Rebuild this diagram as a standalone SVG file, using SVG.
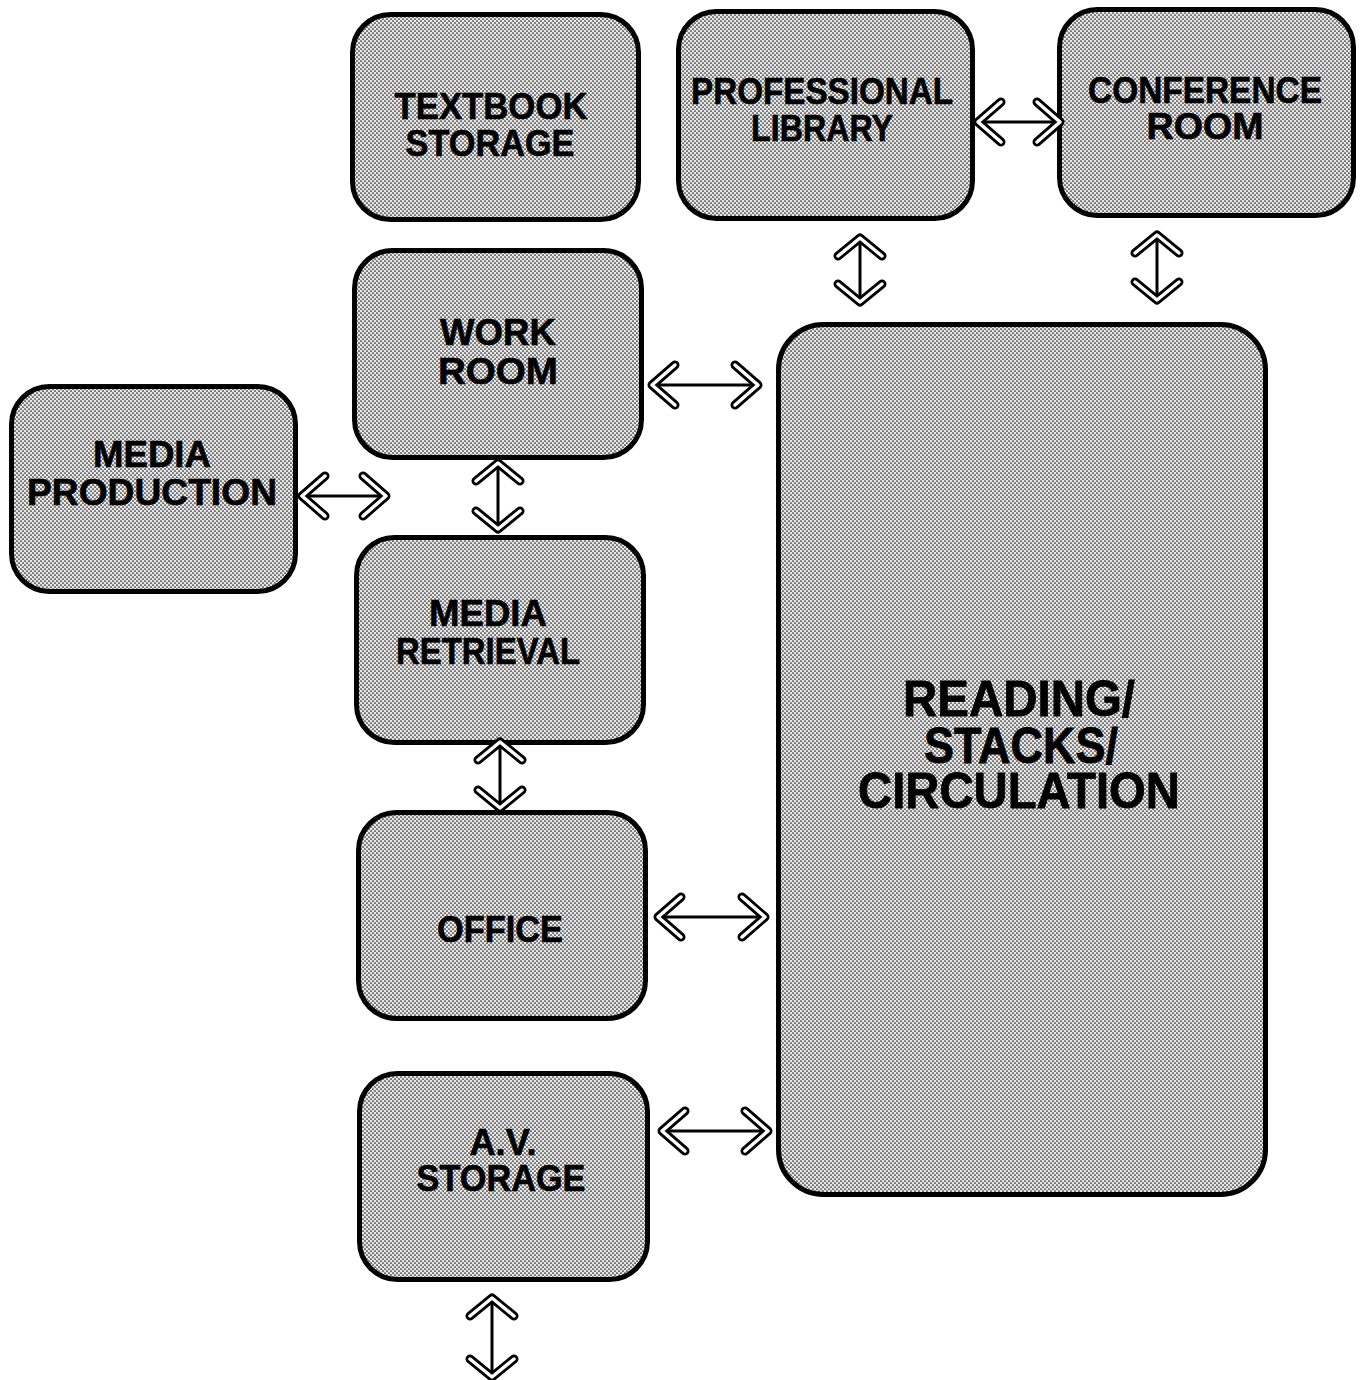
<svg xmlns="http://www.w3.org/2000/svg" width="1364" height="1380" viewBox="0 0 1364 1380">
  <defs>
    <!-- halftone dot screen used for the room fills -->
    <pattern id="screen" width="4" height="4" patternUnits="userSpaceOnUse">
      <rect width="4" height="4" fill="#e6e6e6"/>
      <circle cx="1" cy="1" r="0.85" fill="#222"/>
      <circle cx="3" cy="3" r="0.85" fill="#222"/>
    </pattern>
    <!-- hollow chevron head: thick black stroke with a white core -->
    <marker id="chev" viewBox="-34 -28 44 56" markerWidth="44" markerHeight="56" refX="0" refY="0" markerUnits="userSpaceOnUse" orient="auto-start-reverse" overflow="visible">
      <path d="M-23,-20 L0,0 L-23,20" fill="none" stroke="#000" stroke-width="9" stroke-linejoin="round" stroke-linecap="round"/>
      <path d="M-23,-20 L0,0 L-23,20" fill="none" stroke="#fff" stroke-width="3.5" stroke-linejoin="round" stroke-linecap="round"/>
    </marker>
    <!-- flatter variant for the vertical links -->
    <marker id="chevFlat" viewBox="-34 -28 44 56" markerWidth="44" markerHeight="56" refX="0" refY="0" markerUnits="userSpaceOnUse" orient="auto-start-reverse" overflow="visible">
      <path d="M-18,-22 L0,0 L-18,22" fill="none" stroke="#000" stroke-width="9" stroke-linejoin="round" stroke-linecap="round"/>
      <path d="M-18,-22 L0,0 L-18,22" fill="none" stroke="#fff" stroke-width="3.5" stroke-linejoin="round" stroke-linecap="round"/>
    </marker>
  </defs>
  <style>
    .room { fill: url(#screen); stroke: #000; stroke-width: 5; }
    .lbl { font-family: "Liberation Sans", "DejaVu Sans", sans-serif; font-weight: bold; font-size: 37px; fill: #000; stroke: #000; stroke-width: 0.6; text-anchor: middle; }
    .big { font-size: 50px; stroke-width: 0.8; }
    .link { fill: none; stroke: #000; stroke-width: 3; marker-start: url(#chev); marker-end: url(#chev); }
    .vlink { marker-start: url(#chevFlat); marker-end: url(#chevFlat); }
  </style>
  <rect width="1364" height="1380" fill="#fff"/>

  <g id="textbook-storage">
    <rect class="room" x="352.5" y="14.5" width="286" height="205" rx="38"/>
    <text class="lbl" x="491" y="119" textLength="193" lengthAdjust="spacingAndGlyphs">TEXTBOOK</text>
    <text class="lbl" x="490" y="156" textLength="169" lengthAdjust="spacingAndGlyphs">STORAGE</text>
  </g>

  <g id="professional-library">
    <rect class="room" x="678.5" y="11.5" width="294" height="207" rx="38"/>
    <text class="lbl" x="822" y="104" textLength="262" lengthAdjust="spacingAndGlyphs">PROFESSIONAL</text>
    <text class="lbl" x="822" y="141" textLength="142" lengthAdjust="spacingAndGlyphs">LIBRARY</text>
  </g>

  <g id="conference-room">
    <rect class="room" x="1059.5" y="9.5" width="294" height="206" rx="38"/>
    <text class="lbl" x="1205" y="103" textLength="234" lengthAdjust="spacingAndGlyphs">CONFERENCE</text>
    <text class="lbl" x="1205" y="139" textLength="117" lengthAdjust="spacingAndGlyphs">ROOM</text>
  </g>

  <g id="work-room">
    <rect class="room" x="354.5" y="250.5" width="287" height="207" rx="38"/>
    <text class="lbl" x="498" y="345" textLength="116" lengthAdjust="spacingAndGlyphs">WORK</text>
    <text class="lbl" x="498" y="384" textLength="120" lengthAdjust="spacingAndGlyphs">ROOM</text>
  </g>

  <g id="media-production">
    <rect class="room" x="11.5" y="386.5" width="284" height="205" rx="38"/>
    <text class="lbl" x="152" y="467" textLength="118" lengthAdjust="spacingAndGlyphs">MEDIA</text>
    <text class="lbl" x="152" y="505" textLength="250" lengthAdjust="spacingAndGlyphs">PRODUCTION</text>
  </g>

  <g id="media-retrieval">
    <rect class="room" x="356.5" y="537.5" width="287" height="205" rx="38"/>
    <text class="lbl" x="488" y="626" textLength="118" lengthAdjust="spacingAndGlyphs">MEDIA</text>
    <text class="lbl" x="488" y="664" textLength="184" lengthAdjust="spacingAndGlyphs">RETRIEVAL</text>
  </g>

  <g id="office">
    <rect class="room" x="358.5" y="812.5" width="287" height="206" rx="38"/>
    <text class="lbl" x="500" y="942" textLength="126" lengthAdjust="spacingAndGlyphs">OFFICE</text>
  </g>

  <g id="av-storage">
    <rect class="room" x="359.5" y="1073.5" width="288" height="206" rx="38"/>
    <text class="lbl" x="503" y="1155" textLength="67" lengthAdjust="spacingAndGlyphs">A.V.</text>
    <text class="lbl" x="501" y="1191" textLength="169" lengthAdjust="spacingAndGlyphs">STORAGE</text>
  </g>

  <g id="reading-stacks-circulation">
    <rect class="room" x="778.5" y="324.5" width="487" height="870" rx="45"/>
    <text class="lbl big" x="1019" y="716" textLength="232" lengthAdjust="spacingAndGlyphs">READING/</text>
    <text class="lbl big" x="1021" y="763" textLength="194" lengthAdjust="spacingAndGlyphs">STACKS/</text>
    <text class="lbl big" x="1019" y="808" textLength="322" lengthAdjust="spacingAndGlyphs">CIRCULATION</text>
  </g>

  <g id="connectors">
    <path class="link" d="M652,385 H758"/>
    <path class="link" d="M978,122 H1060"/>
    <path class="link" d="M302,496 H386"/>
    <path class="link vlink" d="M498,463 V529"/>
    <path class="link vlink" d="M860,238 V302"/>
    <path class="link vlink" d="M1157,235 V300"/>
    <path class="link vlink" d="M500,742 V808"/>
    <path class="link" d="M658,917 H765"/>
    <path class="link" d="M662,1131 H768"/>
    <path class="link vlink" d="M492,1298 V1377"/>
  </g>
</svg>
